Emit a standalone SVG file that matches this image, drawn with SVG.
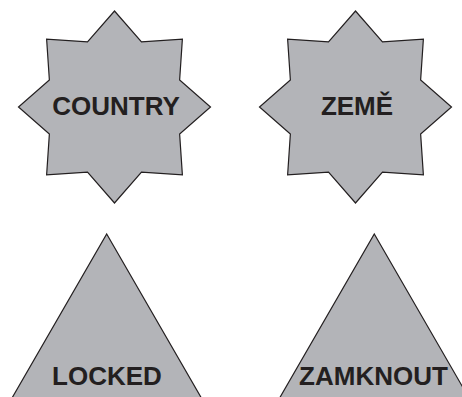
<svg xmlns="http://www.w3.org/2000/svg" width="462" height="397" viewBox="0 0 462 397">
  <style>
    .shape { fill: #b3b4b8; stroke: #231f20; stroke-width: 1.2; stroke-linejoin: miter; }
    .label { font-family: "Liberation Sans", Arial, Helvetica, sans-serif; font-weight: bold; font-size: 26px; fill: #231f20; text-anchor: middle; }
  </style>
  <defs>
    <!-- eight-point star, outer radius 96, inner radius 70.5, centred on the origin -->
    <polygon id="star8" points="0,-96 26.98,-65.13 67.88,-67.88 65.13,-26.98 96,0 65.13,26.98 67.88,67.88 26.98,65.13 0,96 -26.98,65.13 -67.88,67.88 -65.13,26.98 -96,0 -65.13,-26.98 -67.88,-67.88 -26.98,-65.13"/>
    <!-- equilateral triangle, apex at the origin, running past the lower edge -->
    <polygon id="tri" points="0,0 107.4,186 -107.4,186"/>
  </defs>

  <g id="node-country">
    <use href="#star8" class="shape" transform="translate(114.5,107)"/>
    <text class="label" x="116" y="115">COUNTRY</text>
  </g>

  <g id="node-zeme">
    <use href="#star8" class="shape" transform="translate(355.5,107)"/>
    <text class="label" x="357" y="115">ZEMĚ</text>
  </g>

  <g id="node-locked">
    <use href="#tri" class="shape" transform="translate(106.7,234)"/>
    <text class="label" x="107" y="385">LOCKED</text>
  </g>

  <g id="node-zamknout">
    <use href="#tri" class="shape" transform="translate(374.3,234)"/>
    <text class="label" x="373.5" y="385">ZAMKNOUT</text>
  </g>

  <g id="connectors"></g>
</svg>
